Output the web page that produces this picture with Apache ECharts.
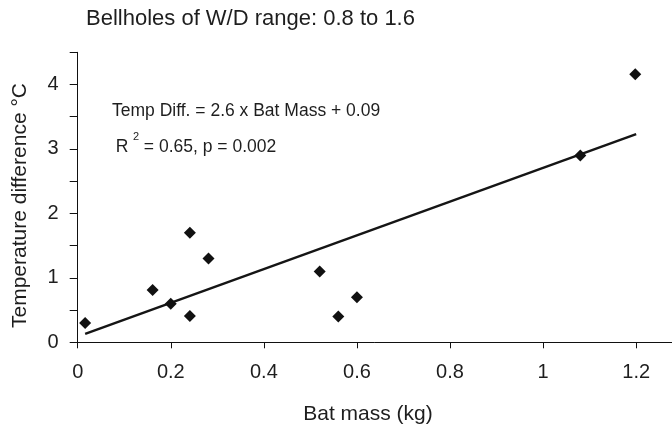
<!DOCTYPE html>
<html>
<head>
<meta charset="utf-8">
<script src="https://cdn.jsdelivr.net/npm/echarts@6/dist/echarts.min.js"></script>
<style>html,body{margin:0;padding:0;background:#fff}#chart{width:672px;height:426px}</style>
</head>
<body>
<div id="chart"></div>
<script>
// Data
const batMass = [0.016, 0.161, 0.200, 0.241, 0.241, 0.281, 0.520, 0.560, 0.600, 1.080, 1.198];
const tempDiff = [0.30, 0.81, 0.60, 1.70, 0.41, 1.30, 1.10, 0.40, 0.70, 2.90, 4.16];
const fitX = [0.016, 1.2];
const fitY = [0.13, 3.23];
const titleText = 'Bellholes of W/D range: 0.8 to 1.6';
const eqText = 'Temp Diff. = 2.6 x Bat Mass + 0.09';
const statLetter = 'R';
const statSup = '2';
const statText = ' = 0.65, p = 0.002';
const xName = 'Bat mass (kg)';
const yName = 'Temperature difference °C';

const FONT = '"Liberation Sans", Arial, sans-serif';
const TXT = '#1e1e1e';

const chart = echarts.init(document.getElementById('chart'), null, {renderer: 'canvas'});
chart.setOption({
  backgroundColor: '#ffffff',
  animation: false,
  textStyle: {fontFamily: FONT, color: TXT},
  grid: {left: 77.7, top: 52.3, right: 0, bottom: 83.7, containLabel: false},
  xAxis: {
    type: 'value', min: 0, max: 1.277, interval: 0.2,
    axisLine: {show: true, lineStyle: {color: '#111', width: 1}},
    axisTick: {show: true, length: 6, lineStyle: {color: '#111', width: 1}},
    axisLabel: {fontFamily: FONT, fontSize: 20, color: TXT, margin: 20, showMaxLabel: false,
      formatter: v => (Math.abs(v - Math.round(v * 5) / 5) < 1e-6 ? String(+v.toFixed(1)) : '')},
    splitLine: {show: false}
  },
  yAxis: {
    type: 'value', min: 0, max: 4.5, interval: 0.5,
    axisLine: {show: true, lineStyle: {color: '#111', width: 1}},
    axisTick: {show: true, length: 8, lineStyle: {color: '#111', width: 1}},
    axisLabel: {fontFamily: FONT, fontSize: 20, color: TXT, margin: 19,
      formatter: v => (Math.abs(v - Math.round(v)) < 1e-6 ? String(Math.round(v)) : '')},
    splitLine: {show: false}
  },
  graphic: [
    {type: 'text', x: 86, y: 18.5,
      style: {text: titleText, font: '22px ' + FONT, fill: TXT, align: 'left', verticalAlign: 'middle'}},
    {type: 'text', x: 368, y: 414,
      style: {text: xName, font: '21px ' + FONT, fill: TXT, align: 'center', verticalAlign: 'middle'}},
    {type: 'text', x: 20, y: 205.5, rotation: Math.PI / 2,
      style: {text: yName, font: '21px ' + FONT, fill: TXT, align: 'center', verticalAlign: 'middle'}},
    {type: 'text', x: 112, y: 111.5,
      style: {text: eqText, font: '17.5px ' + FONT, fill: TXT, align: 'left', verticalAlign: 'middle'}},
    {type: 'text', x: 115.7, y: 147.5,
      style: {text: statLetter, font: '17.5px ' + FONT, fill: TXT, align: 'left', verticalAlign: 'middle'}},
    {type: 'text', x: 133, y: 137,
      style: {text: statSup, font: '11px ' + FONT, fill: TXT, align: 'left', verticalAlign: 'middle'}},
    {type: 'text', x: 139, y: 147.5,
      style: {text: statText, font: '17.5px ' + FONT, fill: TXT, align: 'left', verticalAlign: 'middle'}}
  ],
  series: [
    {
      type: 'line',
      data: fitX.map((x, i) => [x, fitY[i]]),
      showSymbol: false, symbol: 'none',
      lineStyle: {color: '#151515', width: 2.4},
      z: 2
    },
    {
      type: 'scatter',
      data: batMass.map((x, i) => [x, tempDiff[i]]),
      symbol: 'diamond', symbolSize: 12,
      itemStyle: {color: '#111111', opacity: 1},
      z: 3
    }
  ]
});
</script>
</body>
</html>
